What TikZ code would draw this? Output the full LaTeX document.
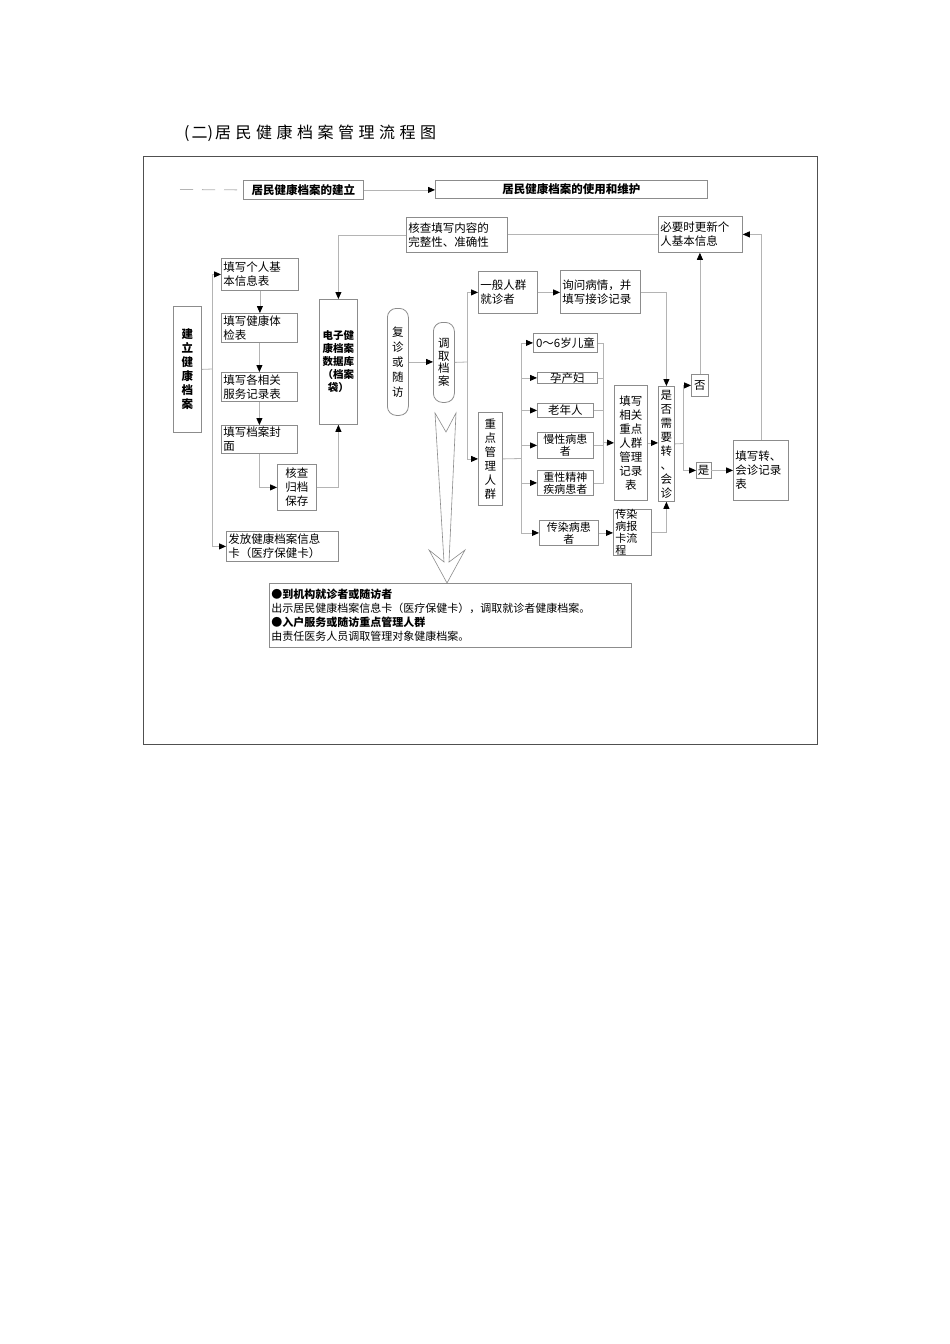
\documentclass[tikz,border=0pt]{standalone}
\usepackage{fontspec}
\setmainfont{Noto Sans CJK SC}
\usetikzlibrary{arrows.meta}
\definecolor{bgray}{HTML}{8C8C8C}
\definecolor{lgray}{HTML}{B4B4B4}
\definecolor{fgray}{HTML}{505050}
\newcommand\myfs{\fontsize{11.5}{14}\selectfont}
\newcommand\mysm{\fontsize{11}{12}\selectfont}
\newcommand\mytsp{\hspace{4.5pt}}
\begin{document}
\begin{tikzpicture}[x=1pt,y=-1pt,
  bx/.style={draw=bgray, line width=0.8pt, inner xsep=2pt, inner ysep=0pt, anchor=north west, align=left, font=\myfs},
  cbx/.style={bx, align=center},
  ln/.style={draw=lgray, line width=0.8pt},
  arr/.style={ln, -{Triangle[length=7pt,width=6pt,color=black]}},
]
\fill[white] (0,0) rectangle (950,1344);
\useasboundingbox (0,0) rectangle (950,1344);

% title and frame
\node[anchor=west, inner sep=0pt, font=\fontsize{16}{19}\selectfont] (title) at (184,133)
  {(\hspace{2pt}二)\hspace{2pt}居\mytsp 民\mytsp 健\mytsp 康\mytsp 档\mytsp 案\mytsp 管\mytsp 理\mytsp 流\mytsp 程\mytsp 图};
\draw[fgray, line width=0.9pt] (143,156) rectangle (817,744);

% header row
\node[cbx, font=\myfs\bfseries, text width=116pt, minimum height=19pt] (jl0) at (243,180) {居民健康档案的建立};
\node[cbx, font=\myfs\bfseries, text width=268pt, minimum height=18pt] (sy0) at (435,180) {居民健康档案的使用和维护};
\coordinate (dstart) at (180,189.5);
\draw[ln, dash pattern=on 13pt off 9pt] (dstart) -- (jl0.west);
\draw[arr] (jl0.east) -- (jl0.east -| sy0.west);

% upper boxes
\node[bx, text width=97pt, minimum height=35pt] (hc1) at (406,217) {核查填写内容的\\完整性、准确性};
\node[bx, text width=80pt, minimum height=36pt] (by) at (658,216) {必要时更新个\\人基本信息};

% left column
\node[cbx, font=\myfs\bfseries, text width=24pt, minimum height=126pt] (jl) at (173,306) {建\\立\\健\\康\\档\\案};
\node[bx, text width=73pt, minimum height=32pt] (f1) at (221,258) {填写个人基\\本信息表};
\node[bx, text width=72pt, minimum height=29pt] (f2) at (221,313) {填写健康体\\检表};
\node[bx, text width=72pt, minimum height=29pt] (f3) at (221,372) {填写各相关\\服务记录表};
\node[bx, text width=72pt, minimum height=28pt] (f4) at (221,425) {填写档案封\\面};
\node[cbx, text width=35pt, minimum height=46pt] (hc2) at (277,464) {核查\\归档\\保存};
\node[bx, text width=108pt, minimum height=30pt] (ff) at (226,531) {发放健康档案信息\\卡（医疗保健卡）};
\node[cbx, font=\fontsize{10.5}{13}\selectfont\bfseries, text width=34pt, minimum height=125pt] (db) at (319,299) {电子健\\康档案\\数据库\\（档案\\袋）};

% middle
\node[cbx, rounded corners=9pt, font=\fontsize{11.5}{15}\selectfont, text width=17pt, minimum height=107pt] (fz) at (387,308) {复\\诊\\或\\随\\访};
\node[cbx, rounded corners=9pt, font=\fontsize{11.5}{12.5}\selectfont, text width=17pt, minimum height=80pt] (dq) at (433,322) {调\\取\\档\\案};
\node[bx, text width=55pt, minimum height=42pt] (yb) at (478,271) {一般人群\\就诊者};
\node[bx, text width=76pt, minimum height=43pt] (xw) at (560,270) {询问病情，并\\填写接诊记录};
\node[cbx, text width=20pt, minimum height=93pt] (zd) at (478,412) {重\\点\\管\\理\\人\\群};

% groups
\node[cbx, text width=60pt, minimum height=19pt] (s1) at (533,333) {0～6岁儿童};
\node[cbx, text width=56pt, minimum height=11pt] (s2) at (537,372) {孕产妇};
\node[cbx, text width=52pt, minimum height=14pt] (s3) at (537,403) {老年人};
\node[cbx, font=\mysm, text width=52pt, minimum height=26pt] (s4) at (537,432) {慢性病患\\者};
\node[cbx, font=\mysm, text width=52pt, minimum height=25pt] (s5) at (537,470) {重性精神\\疾病患者};
\node[cbx, font=\mysm, text width=55pt, minimum height=25pt] (s6) at (539,520) {传染病患\\者};

\node[cbx, text width=29pt, minimum height=115pt] (tx) at (614,385) {填写\\相关\\重点\\人群\\管理\\记录\\表};
\node[bx, font=\mysm, text width=34pt, minimum height=46pt] (cr) at (613,509) {传染\\病报\\卡流\\程};
\node[cbx, text width=12pt, minimum height=115pt] (sf) at (658,386) {是\\否\\需\\要\\转\\、\\会\\诊};
\node[cbx, text width=13pt, minimum height=22pt] (fou) at (691,374) {否};
\node[cbx, inner xsep=1.5pt, text width=11.5pt, minimum height=16pt] (shi) at (696,462) {是};
\node[bx, text width=51pt, minimum height=60pt] (zz) at (733,440) {填写转、\\会诊记录\\表};

% bottom note
\node[bx, font=\fontsize{11}{14}\selectfont, text width=358pt, minimum height=64pt] (bt) at (269,583)
  {{\bfseries ●到机构就诊者或随访者}\\出示居民健康档案信息卡（医疗保健卡），调取就诊者健康档案。\\{\bfseries ●入户服务或随访重点管理人群}\\由责任医务人员调取管理对象健康档案。};

% hollow big arrow
\draw[bgray, line width=0.6pt, line join=miter] (435,413) -- (446,432) -- (456,413) -- (449,562) -- (465,550) -- (447,583) -- (429,550) -- (444,562) -- cycle;

% connectors
\draw[ln] (by.west) -- (by.west -| hc1.east);
\draw[arr] (hc1.west) -| (db.north);

\coordinate (jx) at (212,369);
\draw[ln] (jl.east) -- (jx);
\draw[arr] (jx) |- (f1.west);
\draw[arr] (jx) |- (ff.west);
\draw[arr] (f1.south) -- (f1.south |- f2.north);
\draw[arr] (f2.south) -- (f2.south |- f3.north);
\draw[arr] (f3.south) -- (f3.south |- f4.north);
\draw[arr] (f4.south) |- (hc2.west);
\draw[arr] (hc2.east) -| (db.south);

\draw[arr] (fz.east) -- (fz.east -| dq.west);
\coordinate (dx) at (467,362);
\draw[ln] (dq.east) -- (dx);
\draw[arr] (dx) |- (yb.west);
\draw[arr] (dx) |- (zd.west);
\draw[arr] (yb.east) -- (yb.east -| xw.west);
\draw[arr] (xw.east) -| (sf.north);

\coordinate (zx) at (521,458.5);
\draw[ln] (zd.east) -- (zx);
\foreach \nm in {s1,s2,s3,s4,s5,s6} \draw[arr] (zx) |- (\nm.west);
\coordinate (cx) at (603,442.5);
\foreach \nm in {s1,s2,s3,s4,s5} \draw[ln] (\nm.east) -| (cx);
\draw[arr] (cx) -- (tx.west);
\draw[arr] (s6.east) -- (s6.east -| cr.west);
\draw[arr] (tx.east) -- (tx.east -| sf.west);
\draw[arr] (cr.east) -| (sf.south);

\coordinate (sx) at (683,443.5);
\draw[ln] (sf.east) -- (sx);
\draw[arr] (sx) |- (fou.west);
\draw[arr] (sx) |- (shi.west);
\draw[arr] (shi.east) -- (shi.east -| zz.west);
\draw[arr] (fou.north) -- (fou.north |- by.south);
\draw[arr] (zz.north) |- (by.east);
\end{tikzpicture}
\end{document}
